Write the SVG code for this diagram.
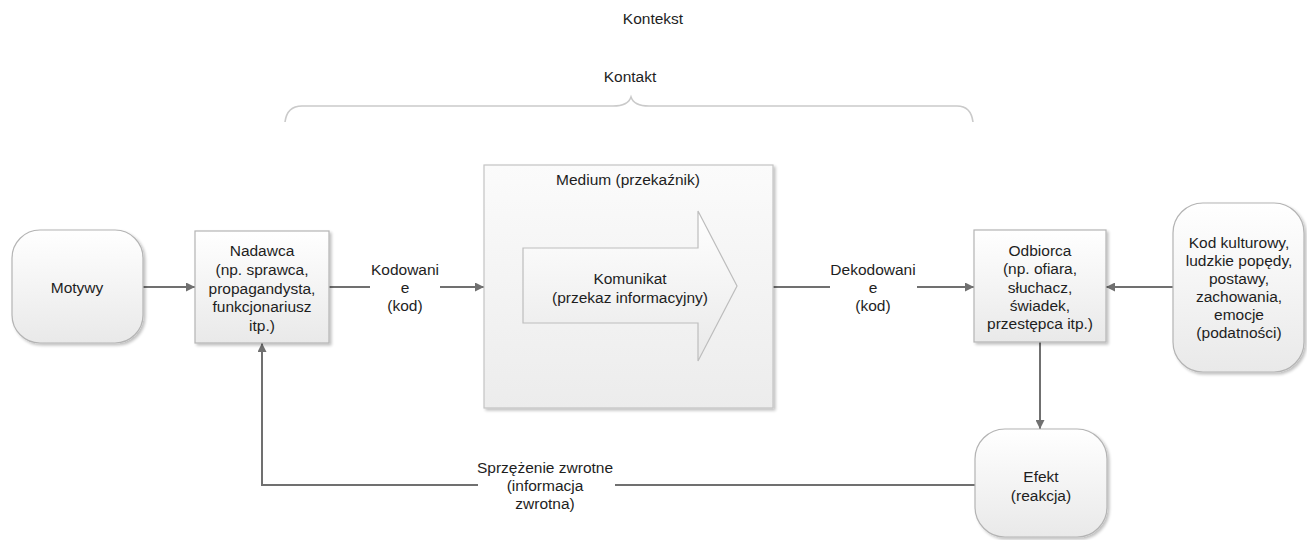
<svg xmlns="http://www.w3.org/2000/svg" width="1307" height="540" viewBox="0 0 1307 540">
  <defs>
    <linearGradient id="g" x1="0" y1="0" x2="0" y2="1">
      <stop offset="0" stop-color="#ffffff"/>
      <stop offset="1" stop-color="#e9e9e9"/>
    </linearGradient>
    <linearGradient id="g2" x1="0" y1="0" x2="0" y2="1">
      <stop offset="0" stop-color="#fbfbfb"/>
      <stop offset="1" stop-color="#ececec"/>
    </linearGradient>
    <filter id="sh" x="-10%" y="-10%" width="130%" height="130%">
      <feGaussianBlur in="SourceAlpha" stdDeviation="1.5"/>
      <feOffset dx="1.5" dy="1.5" result="b"/>
      <feComponentTransfer><feFuncA type="linear" slope="0.25"/></feComponentTransfer>
      <feMerge><feMergeNode/><feMergeNode in="SourceGraphic"/></feMerge>
    </filter>
    <marker id="ah" viewBox="0 0 10 10" refX="10" refY="5" markerWidth="11" markerHeight="9" markerUnits="userSpaceOnUse" orient="auto">
      <path d="M0,0 L10,5 L0,10 Z" fill="#707070"/>
    </marker>
  </defs>
  <style>
    text { font-family: "Liberation Sans", Arial, sans-serif; font-size: 15.5px; fill: #1e1e1e; text-anchor: middle; }
    .box { fill: url(#g); stroke: #b4b4b4; stroke-width: 1.2; filter: url(#sh); }
    .med { fill: url(#g2); stroke: #c4c4c4; stroke-width: 1.2; filter: url(#sh); }
    .big { fill: url(#g); stroke: #bdbdbd; stroke-width: 1.2; }
    .con { fill: none; stroke: #707070; stroke-width: 2; }
    .arr { marker-end: url(#ah); }
    .brace { fill: none; stroke: #cacaca; stroke-width: 1.6; }
  </style>

  <g id="kontekst"><text x="653" y="24">Kontekst</text></g>

  <g id="kontakt">
    <text x="630" y="82">Kontakt</text>
    <path class="brace" d="M285,122 Q287,106 302,106 L613,106 Q628,106 631,97 Q634,106 649,106 L957,106 Q971,106 973,122"/>
  </g>

  <g id="connectors">
    <line class="con arr" x1="143" y1="287" x2="195" y2="287"/>
    <line class="con" x1="329" y1="287" x2="370" y2="287"/>
    <line class="con arr" x1="440" y1="287" x2="484" y2="287"/>
    <line class="con" x1="773" y1="287" x2="830" y2="287"/>
    <line class="con arr" x1="917" y1="287" x2="974" y2="287"/>
    <line class="con arr" x1="1173" y1="287" x2="1106" y2="287"/>
    <line class="con arr" x1="1040" y1="342" x2="1040" y2="429"/>
    <polyline class="con" points="975,485 615,485"/>
    <polyline class="con arr" points="478,485 262,485 262,343"/>
    <text x="405" y="275"><tspan x="405" dy="0">Kodowani</tspan><tspan x="405" dy="18">e</tspan><tspan x="405" dy="18">(kod)</tspan></text>
    <text x="873" y="275"><tspan x="873" dy="0">Dekodowani</tspan><tspan x="873" dy="18">e</tspan><tspan x="873" dy="18">(kod)</tspan></text>
    <text x="545" y="473"><tspan x="545" dy="0">Sprzężenie zwrotne</tspan><tspan x="545" dy="18">(informacja</tspan><tspan x="545" dy="18">zwrotna)</tspan></text>
  </g>

  <g id="motywy">
    <rect class="box" x="12" y="230" width="131" height="113" rx="28" ry="28"/>
    <text x="77" y="293">Motywy</text>
  </g>

  <g id="nadawca">
    <rect class="box" x="195" y="231" width="134" height="112"/>
    <text x="262" y="256"><tspan x="262" dy="0">Nadawca</tspan><tspan x="262" dy="18.8">(np. sprawca,</tspan><tspan x="262" dy="18.8">propagandysta,</tspan><tspan x="262" dy="18.8">funkcjonariusz</tspan><tspan x="262" dy="18.8">itp.)</tspan></text>
  </g>

  <g id="medium">
    <rect class="med" x="484" y="165" width="289" height="243"/>
    <text x="628" y="185">Medium (przekaźnik)</text>
  </g>

  <g id="komunikat">
    <path class="big" d="M523,248 L698,248 L698,211 L737,286 L698,361 L698,323 L523,323 Z"/>
    <text x="630" y="284"><tspan x="630" dy="0">Komunikat</tspan><tspan x="630" dy="19">(przekaz informacyjny)</tspan></text>
  </g>

  <g id="odbiorca">
    <rect class="box" x="974" y="230" width="132" height="112"/>
    <text x="1040" y="256"><tspan x="1040" dy="0">Odbiorca</tspan><tspan x="1040" dy="18.3">(np. ofiara,</tspan><tspan x="1040" dy="18.3">słuchacz,</tspan><tspan x="1040" dy="18.3">świadek,</tspan><tspan x="1040" dy="18.3">przestępca itp.)</tspan></text>
  </g>

  <g id="kod">
    <rect class="box" x="1173" y="203" width="131" height="169" rx="30" ry="30"/>
    <text x="1239" y="248"><tspan x="1239" dy="0">Kod kulturowy,</tspan><tspan x="1239" dy="18">ludzkie popędy,</tspan><tspan x="1239" dy="18">postawy,</tspan><tspan x="1239" dy="18">zachowania,</tspan><tspan x="1239" dy="18">emocje</tspan><tspan x="1239" dy="18">(podatności)</tspan></text>
  </g>

  <g id="efekt">
    <rect class="box" x="975" y="429" width="132" height="108" rx="30" ry="30"/>
    <text x="1041" y="482"><tspan x="1041" dy="0">Efekt</tspan><tspan x="1041" dy="19">(reakcja)</tspan></text>
  </g>
</svg>
